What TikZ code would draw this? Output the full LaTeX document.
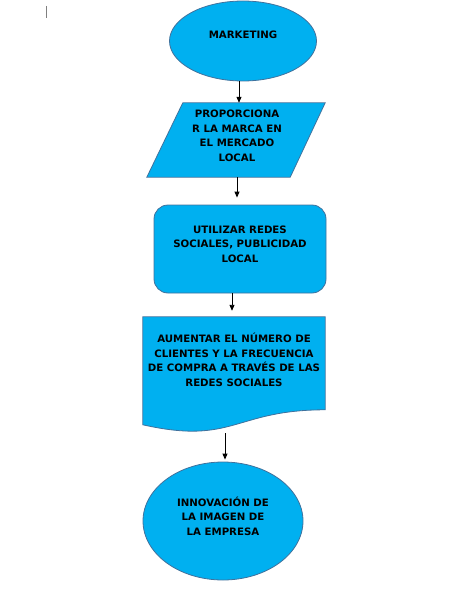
\documentclass[tikz,border=0pt]{standalone}
\usepackage{fontspec}
\setmainfont{DejaVu Sans}
\definecolor{fcblue}{HTML}{00B0F0}
\definecolor{fcedge}{HTML}{41719C}
\usetikzlibrary{arrows.meta,shapes.geometric}

\begin{document}
\begin{tikzpicture}[
  x=1pt,y=-1pt,
  every node/.style={font=\bfseries\fontsize{10.2}{14.5}\selectfont},
  shapebase/.style={draw=fcedge,fill=fcblue,line width=0.8pt,inner sep=0pt},
  termbox/.style={shapebase,ellipse},
  procbox/.style={shapebase,rectangle,rounded corners=14pt},
  framebox/.style={rectangle,inner sep=0pt},
  lbl/.style={align=center,inner sep=0pt},
  arr/.style={-{Triangle[length=6pt,width=5pt]},line width=0.9pt},
]
  \useasboundingbox (0,0) rectangle (465,599);
  \draw[gray,line width=0.6pt] (46,6) -- (46,18);
  % Start: marketing
  \node[termbox,minimum width=147,minimum height=80] (mkt) at (243,41) {};
  \node[lbl] (mktT) at (243,35) {MARKETING};
  % Input: position the brand
  \node[framebox,minimum width=178,minimum height=74] (prop) at (236,140) {};
  \draw[shapebase] ([shift={(36,0)}]prop.north west) -- (prop.north east)
    -- ([shift={(-35,0)}]prop.south east) -- (prop.south west) -- cycle;
  \node[lbl] (propT) at (237,136) {PROPORCIONA\\R LA MARCA EN\\EL MERCADO\\LOCAL};
  % Process: social networks
  \node[procbox,minimum width=172,minimum height=88] (util) at (240,249) {};
  \node[lbl] (utilT) at (240,244) {UTILIZAR REDES\\SOCIALES, PUBLICIDAD\\LOCAL};
  % Document: more clients
  \node[framebox,minimum width=182,minimum height=116] (aum) at (234,375) {};
  \draw[shapebase] (aum.north west) -- (aum.north east) -- ([shift={(0,93)}]aum.north east)
    .. controls ([shift={(0,93)}]aum.north) and ([shift={(0,128.5)}]aum.north)
    .. ([shift={(0,108)}]aum.north west) -- cycle;
  \node[lbl] (aumT) at (234,360) {AUMENTAR EL NÚMERO DE\\CLIENTES Y LA FRECUENCIA\\DE COMPRA A TRAVÉS DE LAS\\REDES SOCIALES};
  % End: new image
  \node[termbox,minimum width=160,minimum height=118] (inno) at (223,521) {};
  \node[lbl] (innoT) at (223,516) {INNOVACIÓN DE\\LA IMAGEN DE\\LA EMPRESA};
  % Connectors
  \draw[arr] ([shift={(-4,0)}]mkt.south) -- ([shift={(3,0)}]prop.north);
  \draw[arr] ([shift={(1,0)}]prop.south) -- ([shift={(-3,-7)}]util.north);
  \draw[arr] ([shift={(-8,0)}]util.south) -- ([shift={(-2,-6)}]aum.north);
  \draw[arr] ([shift={(-9,0)}]aum.south) -- ([shift={(2,-2)}]inno.north);
\end{tikzpicture}
\end{document}
